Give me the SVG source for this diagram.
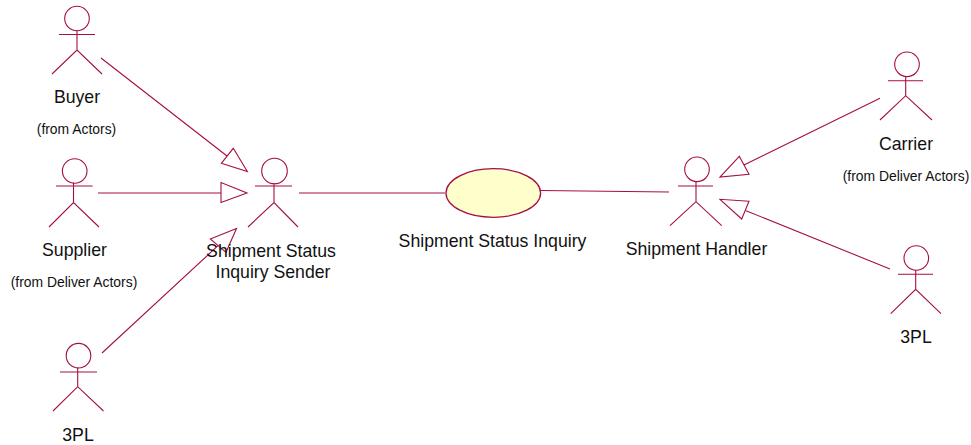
<svg xmlns="http://www.w3.org/2000/svg" width="971" height="445" viewBox="0 0 971 445">
<style>
.s{fill:none;stroke:#a50f45;stroke-width:1.1}
.h{fill:#fff;stroke:#a50f45;stroke-width:1.1}
.u{fill:#ffffcb;stroke:#a50f45;stroke-width:1.3}
text{font-family:"Liberation Sans",Arial,sans-serif;fill:#111;text-anchor:middle}
.n{font-size:17.700px}
.f{font-size:13.900px}
</style>
<rect width="971" height="445" fill="#fff"/>
<g id="connectors">
<path class="s" d="M101 58L227 156M221.300 163.300L233.300 148.300L247.300 171.500Z"/>
<path class="s" d="M98 193H221M221 182.500V202.500L247 193Z"/>
<path class="s" d="M102 353L218 245.700M210.300 239L236.500 228.500L226 252.300Z"/>
<path class="s" d="M880 98.300L744 165M739.300 156.300L720 177L749 174.300Z"/>
<path class="s" d="M890 269L746 210.700M749 201.300L720 199.300L741.700 219Z"/>
<path class="s" d="M299 193H445M541 190.500L669 192"/>
</g>
<g id="actor-buyer">
<circle class="h" cx="77" cy="18.500" r="12.300"/><path class="s" d="M59 34.500H95M77 30.500V50M52 74L77 50L102 74"/>
<text class="n" x="77" y="103">Buyer</text><text class="f" x="76.500" y="134">(from Actors)</text>
</g>
<g id="actor-supplier">
<circle class="h" cx="74.700" cy="171" r="12.300"/><path class="s" d="M56 186H92.700M73.500 182.500V202.500M49 227L73.500 202.500L99 227"/>
<text class="n" x="74.500" y="256">Supplier</text><text class="f" x="74" y="287">(from Deliver Actors)</text>
</g>
<g id="actor-sender">
<circle class="h" cx="274.500" cy="171" r="12.800"/><path class="s" d="M255 186H292M274 183V202.500M248 227L274 202.500L298 227"/>
<text class="n" x="271" y="257">Shipment Status</text><text class="n" x="273" y="278">Inquiry Sender</text>
</g>
<g id="actor-3pl-left">
<circle class="h" cx="78.500" cy="355.700" r="12.300"/><path class="s" d="M60 372H97M77.700 367.500V386.700M53 411L77.700 386.700L103.500 411"/>
<text class="n" x="78" y="441">3PL</text>
</g>
<g id="usecase">
<ellipse class="u" cx="493.300" cy="193" rx="47.300" ry="24.300"/>
<text class="n" x="492.500" y="247">Shipment Status Inquiry</text>
</g>
<g id="actor-handler">
<circle class="h" cx="697" cy="169.300" r="12.300"/><path class="s" d="M678 186H713M696 181V201.700M670 225.700L696 201.700L721.700 225.700"/>
<text class="n" x="696.500" y="255">Shipment Handler</text>
</g>
<g id="actor-carrier">
<circle class="h" cx="907" cy="64.300" r="12.300"/><path class="s" d="M888 80.700H923M905.700 76V95.700M880 120L905.700 95.700L932 120"/>
<text class="n" x="906" y="150">Carrier</text><text class="f" x="906" y="181">(from Deliver Actors)</text>
</g>
<g id="actor-3pl-right">
<circle class="h" cx="916.300" cy="258" r="12.300"/><path class="s" d="M898 274.300H933M915.700 270V289.300M890.700 313.700L915.700 289.300L941 313.700"/>
<text class="n" x="916" y="343">3PL</text>
</g>
</svg>
